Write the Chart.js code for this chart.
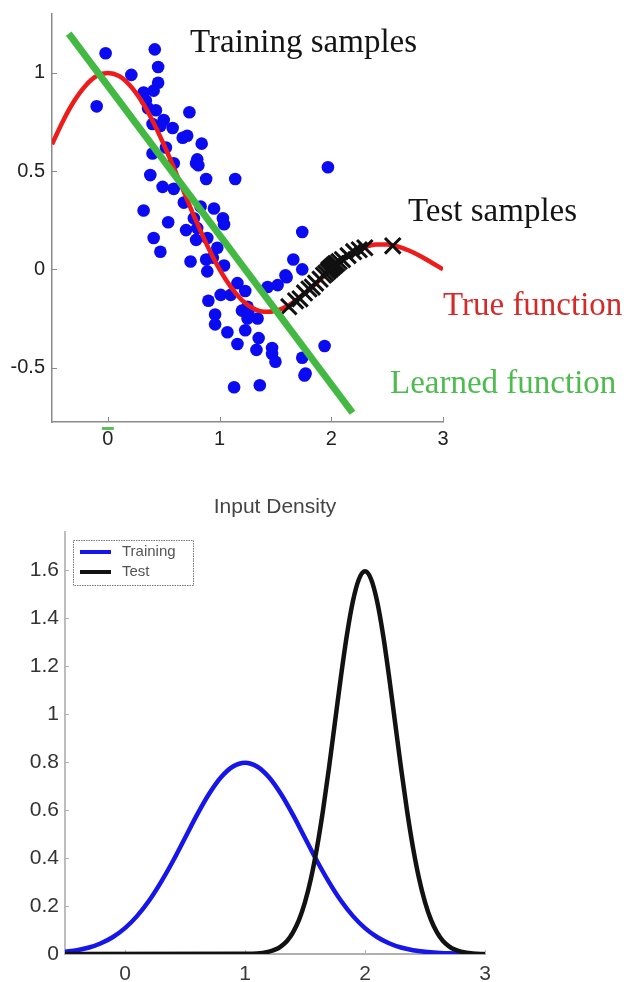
<!DOCTYPE html>
<html><head><meta charset="utf-8">
<script src="https://cdn.jsdelivr.net/npm/chart.js@4.4.1/dist/chart.umd.min.js"></script>
<style>
html,body{margin:0;padding:0;background:#fff;}
#wrap{position:relative;width:628px;height:982px;overflow:hidden;background:#fff;}
canvas{position:absolute;left:0;display:block;}
</style></head><body>
<div id="wrap">
<canvas id="topChart" width="628" height="460" style="top:0"></canvas>
<canvas id="bottomChart" width="628" height="522" style="top:460px"></canvas>
</div>
<script>
// ---------- Top chart data ----------
const trainX = [-0.02,0.42,0.45,0.21,0.45,0.41,0.32,0.34,-0.10,0.43,0.36,0.73,0.50,0.40,0.47,0.58,0.67,0.71,0.84,0.52,0.40,0.80,0.79,0.81,0.59,0.38,0.88,1.14,0.49,0.59,0.68,0.32,0.83,0.95,1.03,1.04,0.77,0.54,0.70,0.80,0.89,0.79,0.41,0.47,0.98,0.94,0.74,0.88,1.04,0.89,1.59,0.90,1.01,1.10,1.16,1.23,0.96,0.96,1.07,1.16,1.20,1.26,1.25,1.34,1.23,1.35,1.33,1.47,1.47,1.50,1.13,1.36,1.43,1.52,1.60,1.66,1.74,1.74,1.74,1.77,1.94,1.97,1.76,1.25];
const trainY = [1.10,1.12,1.03,0.99,0.95,0.91,0.90,0.86,0.83,0.81,0.82,0.80,0.76,0.74,0.73,0.72,0.67,0.68,0.64,0.62,0.59,0.56,0.54,0.53,0.54,0.48,0.46,0.46,0.42,0.41,0.34,0.30,0.32,0.31,0.26,0.23,0.26,0.24,0.20,0.21,0.16,0.15,0.16,0.09,0.11,0.06,0.04,0.05,0.02,-0.01,-0.03,-0.16,-0.13,-0.13,-0.07,-0.11,-0.23,-0.28,-0.32,-0.38,-0.21,-0.21,-0.25,-0.25,-0.31,-0.35,-0.41,-0.40,-0.43,-0.47,-0.60,-0.59,-0.09,-0.08,-0.04,0.05,0.00,0.19,-0.45,-0.53,-0.39,0.52,-0.54,-0.19];

const testX = [1.62,1.68,1.72,1.76,1.80,1.83,1.86,1.90,1.93,1.95,1.97,1.98,1.99,2.00,2.01,2.02,2.03,2.04,2.05,2.07,2.10,2.15,2.20,2.25,2.30,2.55];
const testY = [-0.19,-0.16,-0.15,-0.12,-0.10,-0.09,-0.07,-0.05,-0.03,-0.02,-0.01,0.00,0.00,0.01,0.01,0.02,0.02,0.03,0.03,0.04,0.05,0.07,0.09,0.10,0.11,0.12];

const trueX = [-0.5,-0.4,-0.3,-0.2,-0.1,0,0.1,0.2,0.3,0.4,0.5,0.6,0.7,0.8,0.9,1.0,1.1,1.2,1.3,1.4,1.5,1.6,1.7,1.8,1.9,2.0,2.1,2.2,2.3,2.4,2.5,2.6,2.7,2.8,2.9,3.0];
const trueY = [0.637,0.757,0.858,0.935,0.984,1.0,0.984,0.935,0.858,0.757,0.637,0.505,0.368,0.234,0.109,0.0,-0.089,-0.156,-0.198,-0.216,-0.212,-0.189,-0.151,-0.104,-0.052,0.0,0.047,0.085,0.112,0.126,0.127,0.116,0.095,0.067,0.034,0.0];

const learnedX = [-0.35, 2.19];
const learnedY = [1.20, -0.73];

const topXTicks = [0,1,2,3];
const topXTickLabels = ['0','1','2','3'];
const topYTicks = [-0.5,0,0.5,1];
const topYTickLabels = ['-0.5','0','0.5','1'];
const topAnnotations = ['Training samples','Test samples','True function','Learned function'];

// ---------- Bottom chart data ----------
const trainingDensityX = [-0.5,-0.4,-0.3,-0.2,-0.1,0.0,0.1,0.2,0.3,0.4,0.5,0.6,0.7,0.8,0.9,1.0,1.1,1.2,1.3,1.4,1.5,1.6,1.7,1.8,1.9,2.0,2.1,2.2,2.3,2.4,2.5,2.6,2.7,2.8];
const trainingDensity = [0.009,0.016,0.027,0.045,0.071,0.108,0.158,0.222,0.300,0.388,0.484,0.580,0.667,0.737,0.782,0.798,0.782,0.737,0.667,0.580,0.484,0.388,0.300,0.222,0.158,0.108,0.071,0.045,0.027,0.016,0.009,0.005,0.003,0.001];
const testDensityX = [-0.5,1.0,1.1,1.2,1.25,1.3,1.35,1.4,1.45,1.5,1.55,1.6,1.65,1.7,1.75,1.8,1.85,1.9,1.95,2.0,2.05,2.1,2.15,2.2,2.25,2.3,2.35,2.4,2.45,2.5,2.55,2.6,2.65,2.7,2.75,2.8,2.9,3.0];
const testDensity = [0,0.001,0.002,0.010,0.018,0.032,0.054,0.090,0.142,0.216,0.316,0.444,0.599,0.777,0.968,1.159,1.333,1.473,1.564,1.596,1.564,1.473,1.333,1.159,0.968,0.777,0.599,0.444,0.316,0.216,0.142,0.090,0.054,0.032,0.018,0.010,0.002,0];
const densityLabels = ['Training','Test'];
const densityTitle = 'Input Density';

const bottomXTicks = [0,1,2,3];
const bottomXTickLabels = ['0','1','2','3'];
const bottomYTicks = [0,0.2,0.4,0.6,0.8,1,1.2,1.4,1.6];
const bottomYTickLabels = ['0','0.2','0.4','0.6','0.8','1','1.2','1.4','1.6'];

// ---------- helpers ----------
const zip = (xs, ys) => xs.map((x, i) => ({x, y: ys[i]}));
const SANS = '"Liberation Sans", Arial, sans-serif';
const SERIF = '"Liberation Serif", "Times New Roman", serif';
const noScalePadding = s => { s.paddingTop = 0; s.paddingBottom = 0; s.paddingLeft = 0; s.paddingRight = 0; };

function inwardTicks(color, len, width) {
  return {
    id: 'inwardTicks',
    beforeDatasetsDraw(chart) {
      const {ctx, chartArea: a, scales: {x, y}} = chart;
      ctx.save();
      ctx.strokeStyle = color; ctx.lineWidth = width;
      x.ticks.forEach(t => {
        const px = Math.round(x.getPixelForValue(t.value)) + 0.5;
        ctx.beginPath(); ctx.moveTo(px, a.bottom); ctx.lineTo(px, a.bottom - len); ctx.stroke();
      });
      y.ticks.forEach(t => {
        const py = Math.round(y.getPixelForValue(t.value)) + 0.5;
        ctx.beginPath(); ctx.moveTo(a.left, py); ctx.lineTo(a.left + len, py); ctx.stroke();
      });
      ctx.restore();
    }
  };
}

const topAnnotationPlugin = {
  id: 'topAnnotations',
  afterDraw(chart) {
    const ctx = chart.ctx;
    const items = [
      {t: topAnnotations[0], x: 190, y: 52, c: '#141414'},
      {t: topAnnotations[1], x: 408, y: 221, c: '#141414'},
      {t: topAnnotations[2], x: 443, y: 315, c: '#d42a2a'},
      {t: topAnnotations[3], x: 390, y: 393, c: '#4dbb4d'}
    ];
    ctx.save();
    ctx.font = '33px ' + SERIF;
    ctx.textBaseline = 'alphabetic';
    ctx.textAlign = 'left';
    items.forEach(it => { ctx.fillStyle = it.c; ctx.fillText(it.t, it.x, it.y); });
    // small green mark under the "0" tick label
    const x0 = chart.scales.x.getPixelForValue(0);
    ctx.fillStyle = '#5cbf5c';
    ctx.fillRect(x0 - 6, chart.chartArea.bottom + 5, 12, 3);
    ctx.restore();
  }
};

const densityDecor = {
  id: 'densityDecor',
  afterDraw(chart) {
    const ctx = chart.ctx, a = chart.chartArea;
    ctx.save();
    ctx.font = '21px ' + SANS;
    ctx.fillStyle = '#444';
    ctx.textAlign = 'center'; ctx.textBaseline = 'middle';
    ctx.fillText(densityTitle, (a.left + a.right) / 2, 47);
    const bx = a.left + 8, by = a.top + 8, bw = 120, bh = 45;
    ctx.fillStyle = '#fff';
    ctx.fillRect(bx, by, bw, bh);
    ctx.strokeStyle = '#777'; ctx.lineWidth = 1;
    ctx.setLineDash([1.5, 1]);
    ctx.strokeRect(bx + 0.5, by + 0.5, bw, bh);
    ctx.setLineDash([]);
    const ds = [chart.data.datasets[1], chart.data.datasets[0]];
    ctx.font = '15px ' + SANS;
    ctx.textAlign = 'left'; ctx.textBaseline = 'middle';
    ds.forEach((d, i) => {
      const ly = by + 12 + i * 20;
      ctx.strokeStyle = d.borderColor; ctx.lineWidth = 4;
      ctx.beginPath(); ctx.moveTo(bx + 7, ly); ctx.lineTo(bx + 38, ly); ctx.stroke();
      ctx.fillStyle = '#555';
      ctx.fillText(d.label, bx + 49, ly);
    });
    ctx.restore();
  }
};

// ---------- Top chart ----------
new Chart(document.getElementById('topChart'), {
  type: 'scatter',
  data: {
    datasets: [
      {type: 'line', label: 'Learned function', data: zip(learnedX, learnedY), borderColor: '#43b943', borderWidth: 7, borderCapStyle: 'butt', pointRadius: 0, fill: false, order: 0},
      {type: 'scatter', label: 'Test samples', data: zip(testX, testY), pointStyle: 'crossRot', pointRadius: 11, borderColor: '#111', borderWidth: 3, backgroundColor: '#111', order: 1},
      {type: 'line', label: 'True function', data: zip(trueX, trueY), borderColor: '#ee1b1b', borderWidth: 4.5, pointRadius: 0, cubicInterpolationMode: 'monotone', fill: false, order: 2},
      {type: 'scatter', label: 'Training samples', data: zip(trainX, trainY), pointStyle: 'circle', pointRadius: 6.3, backgroundColor: '#0b0bf2', borderWidth: 0, order: 3}
    ]
  },
  options: {
    responsive: false, animation: false, devicePixelRatio: 1,
    layout: {padding: {left: 0, top: 13, right: 185, bottom: 0}},
    plugins: {legend: {display: false}, tooltip: {enabled: false}, title: {display: false}},
    scales: {
      x: {
        type: 'linear', min: -0.5, max: 3,
        afterBuildTicks: s => { s.ticks = topXTicks.map(v => ({value: v})); },
        afterFit: s => { s.height = 38; noScalePadding(s); },
        grid: {display: false, drawTicks: false},
        border: {display: true, color: '#8a8a8a', width: 1.5},
        ticks: {padding: 5, color: '#222', autoSkip: false, maxRotation: 0,
          font: {family: SANS, size: 20},
          callback: v => topXTickLabels[topXTicks.indexOf(v)]}
      },
      y: {
        type: 'linear', min: -0.777, max: 1.30,
        afterBuildTicks: s => { s.ticks = topYTicks.map(v => ({value: v})); },
        afterFit: s => { s.width = 52; noScalePadding(s); },
        grid: {display: false, drawTicks: false},
        border: {display: true, color: '#8a8a8a', width: 1.5},
        ticks: {padding: 7, color: '#222', autoSkip: false,
          font: {family: SANS, size: 20},
          callback: v => topYTickLabels[topYTicks.indexOf(v)]}
      }
    }
  },
  plugins: [inwardTicks('#8a8a8a', 5, 1), topAnnotationPlugin]
});

// ---------- Bottom chart ----------
new Chart(document.getElementById('bottomChart'), {
  type: 'scatter',
  data: {
    datasets: [
      {type: 'line', label: densityLabels[1], data: zip(testDensityX, testDensity), borderColor: '#121212', borderWidth: 4.5, pointRadius: 0, cubicInterpolationMode: 'monotone', fill: false, order: 0},
      {type: 'line', label: densityLabels[0], data: zip(trainingDensityX, trainingDensity), borderColor: '#1616e8', borderWidth: 4.5, pointRadius: 0, cubicInterpolationMode: 'monotone', fill: false, order: 1}
    ]
  },
  options: {
    responsive: false, animation: false, devicePixelRatio: 1,
    layout: {padding: {left: 0, top: 72, right: 143, bottom: 0}},
    plugins: {legend: {display: false}, tooltip: {enabled: false}, title: {display: false}},
    scales: {
      x: {
        type: 'linear', min: -0.5, max: 3,
        afterBuildTicks: s => { s.ticks = bottomXTicks.map(v => ({value: v})); },
        afterFit: s => { s.height = 28; noScalePadding(s); },
        grid: {display: false, drawTicks: false},
        border: {display: true, color: '#b0b0b0', width: 2},
        ticks: {padding: 8, color: '#3a3a3a', autoSkip: false, maxRotation: 0,
          font: {family: SANS, size: 21},
          callback: v => bottomXTickLabels[bottomXTicks.indexOf(v)]}
      },
      y: {
        type: 'linear', min: 0, max: 1.76,
        afterBuildTicks: s => { s.ticks = bottomYTicks.map(v => ({value: v})); },
        afterFit: s => { s.width = 65; noScalePadding(s); },
        grid: {display: false, drawTicks: false},
        border: {display: true, color: '#bdbdbd', width: 2, dash: [2, 1]},
        ticks: {padding: 6, color: '#333', autoSkip: false,
          font: {family: SANS, size: 21},
          callback: v => bottomYTickLabels[bottomYTicks.indexOf(v)]}
      }
    }
  },
  plugins: [inwardTicks('#b0b0b0', 4, 1), densityDecor]
});
</script>
</body></html>
